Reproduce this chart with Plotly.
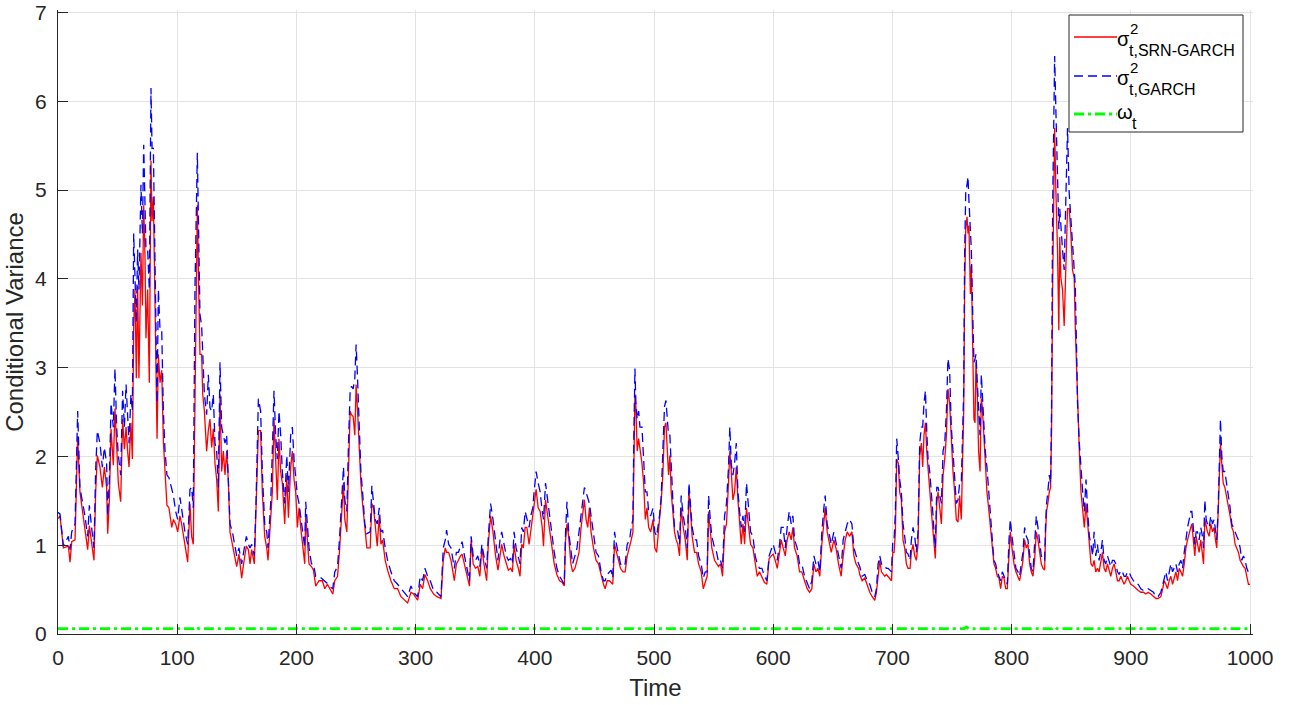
import plotly.graph_objects as go

# ---------------- data ----------------
t = [0, 1.7, 4.5, 8.7, 10.1, 11.5, 14.3, 16.5, 18.4, 20.4, 22.6, 24.9, 26.3, 28.2, 30.2, 31.6, 33.0, 35.2, 37.2, 38.9,
     40.8, 41.7, 43.1, 44.5, 46.4, 47.8, 49.2, 50.6, 52.6, 54.2, 55.7, 57.1, 58.4, 59.6, 61.2, 62.4, 63.5, 64.6, 65.7, 66.8,
     67.9, 69.6, 70.8, 71.9, 73.0, 73.8, 75.2, 76.6, 78.0, 78.9, 80.0, 80.8, 81.9, 83.1, 84.2, 85.6, 87.0, 88.4, 89.8, 91.4,
     93.1, 95.4, 96.8, 98.7, 100.4, 102.3, 103.7, 106.5, 108.8, 110.7, 112.1, 113.5, 114.9, 116.0, 116.9, 118.0, 119.1, 120.5, 121.4, 122.8,
     124.7, 126.1, 127.5, 128.9, 130.3, 131.7, 133.1, 134.5, 135.9, 137.3, 138.7, 140.1, 141.5, 142.9, 144.3, 146.3, 147.9, 149.9, 151.8, 154.1,
     155.7, 158.0, 159.7, 161.1, 162.5, 164.7, 166.1, 168.1, 170.0, 171.4, 173.4, 175.1, 176.2, 178.4, 179.8, 181.2, 182.6, 184.0, 185.4, 186.8,
     188.2, 190.2, 191.9, 193.3, 195.2, 196.6, 198.0, 199.4, 200.8, 202.2, 203.6, 205.6, 207.0, 207.8, 209.2, 210.6, 212.6, 214.3, 216.2, 219.0,
     221.8, 223.8, 226.0, 228.3, 230.5, 232.2, 234.5, 236.1, 237.8, 239.5, 240.6, 242.3, 243.7, 245.1, 246.2, 247.6, 249.0, 250.1, 251.3, 252.7,
     254.1, 255.5, 257.4, 259.1, 261.9, 263.3, 264.7, 266.1, 267.8, 269.5, 270.9, 272.3, 274.5, 276.5, 279.3, 282.1, 284.9, 287.7, 290.5, 293.3,
     296.1, 298.3, 301.7, 303.9, 305.9, 307.8, 310.1, 312.3, 315.1, 317.9, 321.3, 323.2, 324.9, 326.0, 327.7, 329.7, 332.5, 334.2, 335.9, 337.6,
     339.0, 341.0, 343.3, 345.2, 346.6, 348.3, 350.3, 352.2, 353.9, 355.6, 357.3, 359.6, 361.0, 362.9, 364.9, 367.1, 369.1, 370.8, 372.2, 374.2,
     376.1, 377.8, 379.8, 381.2, 382.6, 384.3, 386.2, 387.6, 389.0, 390.4, 391.9, 393.3, 395.2, 396.6, 398.3, 399.4, 401.1, 402.8, 404.5, 406.2,
     407.3, 409.0, 410.7, 412.4, 414.0, 416.3, 418.5, 420.8, 423.0, 424.7, 425.8, 427.0, 428.4, 430.3, 431.7, 433.7, 435.4, 437.1, 438.8, 440.2,
     441.6, 443.0, 444.4, 445.8, 447.2, 449.2, 451.4, 453.4, 455.6, 457.6, 459.0, 460.7, 462.6, 464.0, 465.4, 466.9, 468.5, 470.2, 471.9, 473.9,
     475.8, 477.5, 479.5, 480.9, 482.3, 483.1, 484.0, 484.8, 485.9, 487.1, 488.2, 489.9, 491.3, 492.7, 494.1, 495.5, 497.2, 499.2, 500.6, 502.2,
     504.6, 506.0, 507.4, 508.8, 510.0, 511.1, 512.2, 513.3, 514.4, 515.8, 517.2, 518.6, 520.0, 521.4, 522.8, 524.5, 526.2, 527.9, 529.3, 530.6,
     532.0, 534.0, 535.7, 537.4, 539.6, 541.3, 543.0, 544.6, 545.8, 547.2, 548.5, 550.8, 552.5, 554.1, 555.8, 557.5, 559.2, 560.8, 562.5, 563.6,
     564.8, 566.2, 567.6, 569.0, 570.4, 571.8, 573.2, 574.6, 576.0, 577.6, 579.3, 581.0, 583.0, 584.9, 586.6, 588.5, 590.5, 592.7, 594.7, 596.6,
     598.3, 600.0, 601.7, 603.4, 605.3, 606.7, 608.4, 610.1, 611.7, 613.4, 615.1, 616.5, 617.9, 620.1, 622.1, 624.0, 626.3, 628.5, 630.5, 632.4,
     634.1, 635.8, 637.5, 639.1, 640.8, 642.5, 643.6, 645.3, 647.0, 648.7, 650.9, 652.9, 654.8, 657.0, 658.7, 660.4, 662.1, 664.0, 666.0, 667.7,
     669.4, 671.6, 672.6, 674.6, 676.8, 679.0, 681.0, 683.0, 685.2, 686.6, 688.0, 689.4, 690.8, 692.2, 693.6, 695.0, 696.4, 697.8, 699.2, 700.3,
     701.4, 702.5, 703.6, 705.0, 706.1, 707.5, 708.9, 710.3, 711.7, 713.1, 714.8, 715.9, 717.3, 718.7, 720.1, 721.5, 722.9, 724.3, 725.4, 726.5,
     727.7, 728.8, 729.9, 731.3, 732.7, 734.1, 734.9, 736.0, 737.2, 738.3, 739.7, 741.1, 742.5, 743.9, 745.3, 746.6, 748.0, 749.4, 750.8, 752.2,
     753.6, 755.0, 756.4, 757.8, 758.9, 759.8, 760.6, 761.5, 762.6, 763.4, 764.2, 765.4, 766.2, 767.3, 768.4, 769.3, 770.1, 771.2, 772.3, 773.5,
     774.6, 775.4, 776.5, 777.9, 779.3, 780.7, 782.1, 783.8, 785.2, 786.6, 788.0, 789.4, 790.8, 792.2, 793.6, 795.0, 796.4, 797.8, 798.9, 800.3,
     802.0, 803.6, 805.3, 806.7, 808.1, 809.5, 810.9, 812.3, 813.7, 815.1, 816.5, 817.9, 819.3, 820.7, 822.1, 823.5, 824.9, 826.3, 827.7, 828.5,
     829.3, 830.4, 831.6, 832.7, 833.5, 834.4, 835.2, 836.1, 837.1, 838.5, 839.6, 840.4, 841.3, 842.7, 844.1, 845.5, 846.9, 848.3, 849.7, 851.1,
     852.5, 853.4, 854.5, 855.3, 856.8, 858.2, 859.6, 861.0, 862.4, 863.8, 865.2, 866.6, 868.0, 869.2, 870.6, 872.0, 873.4, 874.8, 876.2, 877.6,
     879.0, 880.4, 881.8, 883.2, 884.6, 886.0, 887.4, 888.8, 890.2, 891.6, 893.0, 894.4, 895.8, 897.2, 898.6, 900.0, 902.2, 904.2, 906.2, 908.4,
     910.6, 912.6, 914.5, 916.8, 919.0, 921.0, 922.9, 925.2, 926.8, 928.0, 929.4, 930.8, 932.2, 933.6, 935.0, 936.4, 937.8, 939.2, 940.6, 942.0,
     943.4, 944.8, 946.2, 947.6, 949.0, 950.3, 951.2, 952.6, 953.7, 954.8, 955.9, 957.3, 958.7, 960.1, 961.0, 962.1, 963.2, 964.3, 965.7, 967.1,
     968.5, 969.9, 971.0, 972.1, 973.3, 974.4, 975.2, 976.3, 977.5, 978.9, 980.3, 981.7, 983.3, 984.7, 986.1, 987.5, 988.9, 990.3, 991.7, 993.1,
     994.5, 995.9, 997.3, 998.7, 1000]

srn_garch = [1.30, 1.33, 0.97, 0.99, 0.81, 1.04, 1.06, 2.22, 1.60, 1.38, 1.20, 0.95, 1.22, 1.01, 0.83, 1.60, 2.01, 1.88, 1.65, 1.88,
     1.65, 1.13, 1.51, 2.31, 1.90, 2.54, 2.06, 1.70, 1.49, 2.42, 2.08, 2.33, 2.06, 1.88, 2.38, 1.97, 3.47, 3.88, 2.88, 3.92,
     2.88, 4.29, 3.70, 4.83, 4.24, 3.33, 3.88, 2.83, 5.33, 4.65, 4.92, 4.10, 3.42, 2.20, 3.15, 2.83, 2.97, 2.17, 1.83, 1.45,
     1.42, 1.20, 1.29, 1.24, 1.15, 1.33, 1.24, 1.01, 0.81, 1.47, 1.10, 1.01, 2.92, 3.88, 4.83, 3.92, 3.15, 3.15, 2.70, 2.51,
     2.06, 2.29, 2.42, 2.10, 2.31, 1.92, 1.74, 1.38, 2.70, 1.83, 2.06, 1.79, 2.06, 1.72, 1.15, 1.01, 0.88, 0.76, 0.90, 0.63,
     0.79, 0.99, 0.95, 0.79, 0.95, 0.79, 1.40, 2.29, 2.29, 1.60, 1.10, 0.97, 0.83, 1.33, 1.60, 2.42, 1.92, 1.51, 2.20, 1.83,
     1.70, 1.24, 1.79, 1.31, 1.88, 2.06, 1.74, 1.60, 1.20, 1.42, 1.20, 0.95, 0.79, 1.33, 1.06, 0.79, 0.76, 0.72, 0.54, 0.60,
     0.60, 0.51, 0.56, 0.51, 0.45, 0.60, 0.65, 0.92, 1.33, 1.70, 1.29, 1.15, 1.83, 2.51, 2.47, 2.45, 2.24, 2.81, 2.51, 2.06,
     1.70, 1.47, 1.15, 0.97, 0.97, 1.47, 1.42, 1.24, 0.99, 1.33, 1.01, 1.06, 0.83, 0.72, 0.60, 0.51, 0.51, 0.42, 0.38, 0.35,
     0.47, 0.45, 0.38, 0.56, 0.51, 0.67, 0.60, 0.51, 0.45, 0.42, 0.40, 0.83, 0.97, 0.92, 0.92, 0.83, 0.60, 0.79, 0.83, 0.88,
     0.90, 0.79, 0.63, 0.54, 1.06, 0.79, 0.74, 0.76, 0.65, 0.97, 0.79, 0.60, 1.01, 1.33, 1.15, 0.88, 0.72, 0.88, 1.01, 0.88,
     0.79, 0.72, 0.74, 0.70, 1.01, 0.83, 0.74, 0.65, 1.01, 0.97, 1.20, 1.20, 1.01, 1.15, 1.29, 1.42, 1.63, 1.42, 1.38, 1.20,
     0.99, 1.51, 1.33, 1.15, 0.97, 0.79, 0.67, 0.60, 0.58, 0.54, 1.06, 1.24, 1.10, 0.79, 0.70, 0.74, 0.83, 0.92, 1.20, 1.38,
     1.51, 1.29, 1.20, 1.42, 1.15, 0.97, 0.83, 0.79, 0.65, 0.56, 0.51, 0.60, 0.60, 0.58, 0.56, 1.01, 0.92, 0.83, 0.74, 0.70,
     0.70, 0.88, 0.97, 1.06, 1.15, 1.92, 2.70, 2.56, 2.06, 2.20, 2.10, 1.92, 1.70, 1.29, 1.42, 1.20, 1.15, 1.29, 0.97, 0.92,
     1.29, 1.49, 1.79, 2.33, 2.38, 2.10, 1.79, 2.01, 1.60, 1.38, 1.15, 1.06, 1.01, 0.88, 1.42, 1.20, 1.06, 0.83, 1.60, 1.38,
     1.10, 0.92, 0.92, 0.79, 0.70, 0.51, 0.60, 0.65, 1.38, 1.20, 0.97, 0.83, 0.79, 0.76, 0.79, 0.65, 1.15, 1.24, 1.70, 2.06,
     1.83, 1.51, 1.60, 1.88, 1.51, 1.29, 1.01, 1.24, 1.01, 1.42, 1.24, 1.01, 0.97, 0.79, 0.65, 0.70, 0.65, 0.58, 0.56, 0.85,
     0.88, 0.90, 0.83, 0.74, 0.92, 1.06, 0.97, 0.88, 1.06, 1.15, 1.06, 1.20, 0.97, 0.88, 0.70, 0.70, 0.60, 0.51, 0.47, 0.51,
     0.79, 0.70, 0.74, 0.65, 1.01, 1.33, 1.42, 1.15, 1.01, 0.92, 1.06, 0.95, 0.79, 0.65, 0.88, 1.06, 1.15, 1.10, 1.15, 0.88,
     0.79, 0.74, 0.67, 0.60, 0.63, 0.54, 0.47, 0.42, 0.38, 0.47, 0.70, 0.83, 0.70, 0.67, 0.65, 0.67, 0.65, 0.63, 0.60, 0.92,
     0.92, 1.15, 1.97, 1.92, 1.60, 1.51, 1.06, 0.97, 0.79, 0.74, 0.74, 0.92, 1.01, 0.88, 0.83, 1.01, 2.01, 2.15, 1.88, 2.24,
     2.38, 2.06, 1.83, 1.65, 1.38, 1.15, 1.01, 0.85, 1.47, 1.60, 1.42, 1.24, 1.79, 1.97, 2.24, 2.76, 2.60, 2.20, 1.83, 1.60,
     1.29, 1.26, 1.56, 1.29, 1.83, 2.51, 3.88, 4.56, 4.70, 4.51, 4.60, 3.83, 4.15, 3.20, 2.42, 2.38, 3.06, 2.70, 2.06, 1.83,
     2.65, 2.56, 2.29, 1.83, 1.60, 1.42, 1.24, 0.97, 0.79, 0.74, 0.65, 0.63, 0.51, 0.65, 0.63, 0.51, 0.51, 0.88, 1.15, 0.97,
     0.79, 0.70, 0.65, 0.60, 0.70, 0.83, 1.06, 0.97, 1.01, 0.79, 0.70, 0.65, 0.83, 1.15, 1.06, 0.92, 0.79, 0.74, 0.72, 1.15,
     1.38, 1.47, 1.60, 1.65, 2.29, 3.88, 4.79, 5.70, 5.01, 4.33, 3.42, 4.47, 4.01, 3.88, 3.47, 4.24, 4.79, 4.79, 4.51, 4.10,
     4.01, 3.47, 2.97, 2.51, 2.06, 1.60, 1.42, 1.20, 1.47, 1.24, 0.97, 0.79, 0.76, 0.83, 0.70, 0.74, 0.70, 0.79, 0.92, 0.74,
     0.70, 0.79, 0.70, 0.65, 0.74, 0.79, 0.70, 0.60, 0.60, 0.65, 0.60, 0.56, 0.60, 0.65, 0.60, 0.56, 0.54, 0.51, 0.49, 0.47,
     0.47, 0.45, 0.47, 0.45, 0.42, 0.40, 0.40, 0.42, 0.51, 0.60, 0.56, 0.51, 0.60, 0.65, 0.56, 0.65, 0.70, 0.60, 0.74, 0.70,
     0.65, 0.79, 0.97, 1.06, 1.15, 1.20, 1.24, 1.01, 0.88, 1.10, 1.01, 0.92, 1.06, 0.92, 0.79, 1.29, 1.20, 1.15, 1.10, 1.24,
     1.15, 1.20, 1.06, 0.97, 1.38, 1.83, 2.15, 1.92, 1.70, 1.65, 1.56, 1.47, 1.33, 1.20, 1.15, 1.01, 0.97, 0.92, 0.83, 0.79,
     0.76, 0.74, 0.65, 0.56, 0.56]

garch = [1.37, 1.35, 0.99, 1.10, 0.95, 1.15, 1.24, 2.51, 1.65, 1.51, 1.33, 1.10, 1.45, 1.20, 0.97, 1.85, 2.29, 2.15, 1.88, 2.10,
     1.92, 1.33, 1.74, 2.60, 2.33, 2.99, 2.33, 2.01, 1.79, 2.74, 2.33, 2.81, 2.51, 2.15, 2.70, 2.51, 4.51, 4.01, 3.51, 4.33,
     3.88, 5.06, 4.51, 5.51, 4.65, 4.33, 4.33, 3.88, 6.15, 5.47, 5.47, 4.79, 3.92, 2.60, 3.88, 3.42, 3.42, 2.51, 2.06, 1.79,
     1.76, 1.65, 1.56, 1.38, 1.29, 1.54, 1.42, 1.15, 1.01, 1.63, 1.65, 1.42, 3.88, 4.70, 5.42, 4.51, 3.60, 3.47, 3.06, 2.70,
     2.47, 2.92, 2.55, 2.51, 2.70, 2.15, 2.06, 1.65, 3.06, 2.33, 2.24, 2.15, 2.24, 1.79, 1.24, 1.15, 1.01, 0.88, 0.97, 0.79,
     0.92, 1.10, 1.01, 0.97, 1.01, 0.88, 1.47, 2.65, 2.51, 1.83, 1.24, 1.15, 0.97, 1.47, 2.06, 2.74, 2.24, 1.97, 2.51, 2.24,
     1.83, 1.47, 2.01, 1.60, 2.24, 2.33, 1.97, 1.74, 1.56, 1.47, 1.33, 1.10, 0.97, 1.49, 1.20, 0.97, 0.79, 0.79, 0.65, 0.65,
     0.62, 0.60, 0.57, 0.53, 0.51, 0.70, 0.76, 1.06, 1.51, 1.88, 1.51, 1.38, 2.15, 2.74, 2.79, 2.76, 2.88, 3.26, 2.88, 2.29,
     1.83, 1.60, 1.24, 1.13, 1.15, 1.67, 1.51, 1.29, 1.24, 1.42, 1.15, 1.17, 0.97, 0.83, 0.70, 0.60, 0.56, 0.51, 0.47, 0.42,
     0.54, 0.47, 0.42, 0.65, 0.60, 0.74, 0.65, 0.60, 0.49, 0.47, 0.42, 0.97, 1.06, 1.17, 1.01, 0.97, 0.74, 0.92, 0.92, 0.99,
     1.04, 0.88, 0.74, 0.60, 1.10, 0.88, 0.83, 0.88, 0.76, 1.01, 0.88, 0.74, 1.10, 1.47, 1.29, 1.06, 0.83, 1.06, 1.15, 1.01,
     0.88, 0.83, 0.85, 0.79, 1.15, 0.97, 0.85, 0.79, 1.20, 1.15, 1.38, 1.29, 1.20, 1.33, 1.42, 1.60, 1.83, 1.70, 1.60, 1.38,
     1.29, 1.70, 1.51, 1.29, 1.15, 0.92, 0.74, 0.65, 0.60, 0.56, 1.15, 1.49, 1.15, 0.90, 0.79, 0.88, 0.97, 1.15, 1.33, 1.51,
     1.65, 1.60, 1.54, 1.47, 1.33, 1.10, 0.92, 0.88, 0.70, 0.60, 0.60, 0.67, 0.70, 0.72, 0.63, 1.15, 1.01, 0.90, 0.79, 0.76,
     0.79, 1.01, 1.06, 1.20, 1.29, 2.24, 2.99, 2.60, 2.42, 2.51, 2.33, 2.33, 2.01, 1.60, 1.60, 1.38, 1.33, 1.42, 1.15, 1.10,
     1.33, 1.54, 2.06, 2.56, 2.63, 2.38, 2.24, 2.24, 1.83, 1.51, 1.20, 1.20, 1.15, 1.01, 1.56, 1.33, 1.20, 0.97, 1.70, 1.47,
     1.20, 1.06, 1.06, 0.88, 0.79, 0.63, 0.70, 0.70, 1.56, 1.29, 1.10, 0.97, 0.92, 0.81, 0.83, 0.74, 1.33, 1.47, 1.88, 2.33,
     1.92, 1.79, 1.92, 2.15, 1.60, 1.38, 1.20, 1.33, 1.15, 1.70, 1.42, 1.15, 1.10, 0.88, 0.79, 0.74, 0.74, 0.65, 0.60, 0.88,
     0.95, 1.01, 0.92, 0.83, 1.01, 1.20, 1.20, 0.97, 1.20, 1.38, 1.24, 1.33, 1.06, 0.97, 0.79, 0.79, 0.65, 0.58, 0.51, 0.60,
     0.88, 0.79, 0.83, 0.70, 1.15, 1.42, 1.56, 1.24, 1.10, 1.01, 1.15, 1.01, 0.88, 0.74, 1.06, 1.15, 1.24, 1.29, 1.24, 0.97,
     0.88, 0.79, 0.76, 0.65, 0.67, 0.60, 0.56, 0.47, 0.42, 0.51, 0.79, 0.88, 0.79, 0.76, 0.76, 0.74, 0.74, 0.72, 0.70, 1.04,
     1.06, 1.38, 2.20, 1.97, 1.74, 1.60, 1.24, 1.10, 0.92, 0.90, 0.83, 1.06, 1.20, 1.10, 0.92, 1.15, 2.15, 2.33, 2.33, 2.60,
     2.74, 2.29, 1.97, 1.83, 1.51, 1.33, 1.15, 0.97, 1.65, 1.65, 1.56, 1.47, 2.06, 2.15, 2.51, 3.10, 2.97, 2.33, 2.06, 1.79,
     1.47, 1.51, 1.70, 1.70, 2.15, 2.74, 4.29, 4.97, 5.06, 5.15, 4.88, 4.47, 4.33, 3.65, 3.06, 3.10, 3.15, 2.83, 2.51, 2.24,
     2.92, 2.70, 2.51, 2.06, 1.88, 1.60, 1.33, 1.06, 0.83, 0.79, 0.70, 0.65, 0.60, 0.70, 0.65, 0.60, 0.56, 1.06, 1.29, 1.10,
     0.88, 0.74, 0.70, 0.65, 0.79, 0.92, 1.20, 1.10, 1.06, 0.88, 0.74, 0.70, 0.97, 1.33, 1.20, 1.01, 0.88, 0.83, 0.83, 1.24,
     1.47, 1.60, 1.79, 1.70, 2.51, 4.79, 5.70, 6.51, 5.92, 5.24, 4.56, 4.79, 4.56, 4.33, 4.10, 4.79, 5.70, 4.97, 4.65, 4.42,
     4.15, 3.92, 3.20, 2.60, 2.15, 1.83, 1.60, 1.38, 1.74, 1.38, 1.10, 1.01, 0.88, 1.15, 0.88, 1.01, 0.83, 0.92, 1.06, 0.83,
     0.79, 0.88, 0.83, 0.76, 0.83, 0.83, 0.79, 0.70, 0.67, 0.72, 0.70, 0.65, 0.65, 0.70, 0.70, 0.65, 0.60, 0.56, 0.56, 0.51,
     0.49, 0.49, 0.51, 0.49, 0.47, 0.42, 0.42, 0.47, 0.56, 0.65, 0.70, 0.60, 0.70, 0.79, 0.70, 0.74, 0.79, 0.70, 0.79, 0.83,
     0.74, 0.92, 1.10, 1.20, 1.29, 1.38, 1.38, 1.15, 1.01, 1.15, 1.15, 1.06, 1.20, 1.10, 0.97, 1.51, 1.29, 1.24, 1.20, 1.33,
     1.24, 1.29, 1.15, 1.06, 1.42, 1.97, 2.42, 2.01, 1.83, 1.83, 1.70, 1.60, 1.42, 1.24, 1.20, 1.15, 1.10, 1.06, 0.97, 0.83,
     0.88, 0.83, 0.74, 0.70, 0.65]

t_omega = [0, 114, 116, 118, 760, 762, 764, 834, 836, 838, 1000]
omega = [0.06, 0.06, 0.08, 0.06, 0.06, 0.08, 0.06, 0.06, 0.08, 0.06, 0.06]

x_ticks = list(range(0, 1001, 100))
y_ticks = list(range(0, 8))

# ---------------- figure ----------------
FONT = "Liberation Sans, Arial, Helvetica, sans-serif"
AX = "#262626"
W, H = 1299, 705
ML, MR, MT, MB = 58, 46, 10, 71

fig = go.Figure()
fig.add_trace(go.Scatter(x=t, y=srn_garch, mode="lines", name="σ²t,SRN-GARCH",
                         line=dict(color="#ff0000", width=1.3), showlegend=False))
fig.add_trace(go.Scatter(x=t, y=garch, mode="lines", name="σ²t,GARCH",
                         line=dict(color="#0000ff", width=1.3, dash="9px,5px"), showlegend=False))
fig.add_trace(go.Scatter(x=t_omega, y=omega, mode="lines", name="ωt",
                         line=dict(color="#00ff00", width=2.8, dash="10px,4px,3px,4px"), showlegend=False))

axis_common = dict(showgrid=True, gridcolor="#e3e3e3", gridwidth=1, zeroline=False,
                   showline=True, linecolor=AX, linewidth=1, ticks="inside", ticklen=10,
                   tickcolor=AX, tickwidth=1, tickfont=dict(family=FONT, size=21, color=AX),
                   mirror=False, ticklabeloverflow="allow", automargin=False)

fig.update_xaxes(range=[0, 1002.5], tickvals=x_ticks, ticktext=[str(v) for v in x_ticks],
                 title=dict(text="Time", font=dict(family=FONT, size=24, color=AX), standoff=10),
                 ticklabelstandoff=5, **axis_common)
fig.update_yaxes(range=[0, 7.028], tickvals=y_ticks, ticktext=[str(v) for v in y_ticks],
                 title=dict(text="Conditional Variance", font=dict(family=FONT, size=24, color=AX), standoff=4),
                 ticklabelstandoff=6, **axis_common)

# ---------- legend (drawn to mimic stacked super/subscripts) ----------
PW = W - ML - MR
PH = H - MT - MB

def px(xp):
    return (xp - ML) / float(PW)

def py(yp):
    return (H - MB - yp) / float(PH)

shapes = [dict(type="rect", xref="paper", yref="paper", x0=px(1069), x1=px(1243), y0=py(132), y1=py(15),
               line=dict(color=AX, width=1), fillcolor="white", layer="above")]
entries = [
    (37, "#ff0000", "solid", 1.3),
    (76, "#0000ff", "9px,5px", 1.3),
    (114, "#00ff00", "10px,4px,3px,4px", 2.8),
]
for yy, col, dash, w in entries:
    shapes.append(dict(type="line", xref="paper", yref="paper", x0=px(1074), x1=px(1117), y0=py(yy), y1=py(yy),
                       line=dict(color=col, width=w, dash=dash), layer="above"))

annotations = []
def ann(text, x, y, size):
    annotations.append(dict(text=text, x=px(x), y=py(y), xref="paper", yref="paper", xanchor="left",
                            yanchor="middle", showarrow=False, borderpad=0,
                            font=dict(family=FONT, size=size, color="#000000")))

ann("σ", 1116, 39, 20)
ann("2", 1129, 28, 15)
ann("t,SRN-GARCH", 1128, 50, 16)
ann("σ", 1116, 78, 20)
ann("2", 1129, 67, 15)
ann("t,GARCH", 1128, 89, 16)
ann("ω", 1116, 112, 20)
ann("t", 1131, 123, 16)

fig.update_layout(width=W, height=H, margin=dict(l=ML, r=MR, t=MT, b=MB, autoexpand=False),
                  plot_bgcolor="white", paper_bgcolor="white",
                  shapes=shapes, annotations=annotations, showlegend=False,
                  font=dict(family=FONT, color=AX))

fig.write_html("out.html")
